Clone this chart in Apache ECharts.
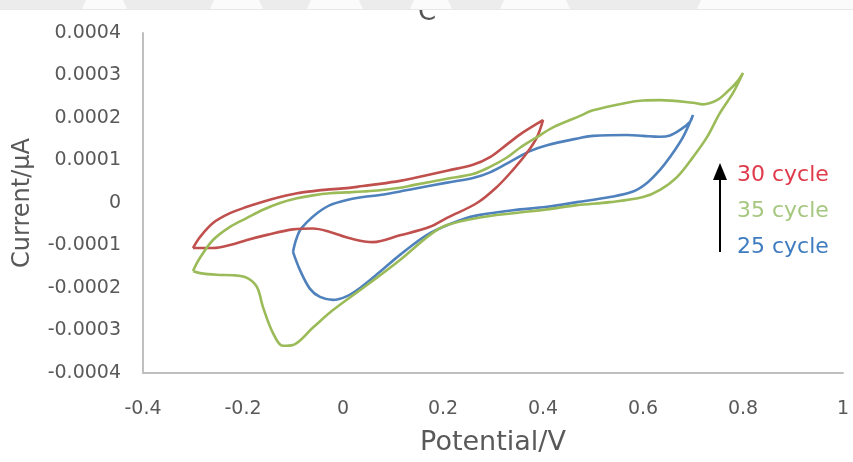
<!DOCTYPE html>
<html>
<head>
<meta charset="utf-8">
<script src="https://cdn.jsdelivr.net/npm/echarts@6/dist/echarts.min.js"></script>
<style>
  html, body { margin: 0; padding: 0; background: #ffffff; }
  #chart { width: 853px; height: 462px; }
</style>
</head>
<body>
<div id="chart"></div>
<script>
// Cyclic voltammograms: potential (V) vs current, one closed loop per cycle count.

// 25 cycle (scan -0.1 V ... 0.7 V ... -0.1 V)
const cycle25Potential = [
  -0.10, -0.094, -0.086, -0.072, -0.052, -0.026, 0.008, 0.04, 0.074, 0.114, 0.14, 0.208, 0.26,
  0.294, 0.34, 0.374, 0.408, 0.474, 0.50, 0.568, 0.60, 0.634, 0.654, 0.674, 0.694, 0.70,
  0.68, 0.654, 0.634, 0.608, 0.58, 0.534, 0.468, 0.408, 0.34, 0.274, 0.24, 0.174, 0.114,
  0.074, 0.034, 0.008, -0.02, -0.046, -0.066, -0.086, -0.10
];
const cycle25Current = [
  -1.15e-4, -0.87e-4, -0.64e-4, -0.45e-4, -0.24e-4, -0.05e-4, 0.07e-4, 0.14e-4, 0.19e-4, 0.27e-4, 0.33e-4, 0.48e-4, 0.59e-4,
  0.72e-4, 1.01e-4, 1.22e-4, 1.36e-4, 1.53e-4, 1.58e-4, 1.60e-4, 1.58e-4, 1.56e-4, 1.59e-4, 1.72e-4, 1.91e-4, 2.07e-4,
  1.55e-4, 1.08e-4, 0.78e-4, 0.47e-4, 0.27e-4, 0.14e-4, 0.02e-4, -0.09e-4, -0.17e-4, -0.28e-4, -0.38e-4, -0.71e-4, -1.22e-4,
  -1.62e-4, -2.00e-4, -2.19e-4, -2.28e-4, -2.21e-4, -2.02e-4, -1.58e-4, -1.15e-4
];

// 30 cycle (scan -0.3 V ... 0.4 V ... -0.3 V)
const cycle30Potential = [
  -0.30, -0.286, -0.26, -0.226, -0.192, -0.16, -0.126, -0.092, -0.06, -0.026, 0.008, 0.04, 0.074,
  0.114, 0.14, 0.208, 0.26, 0.294, 0.328, 0.36, 0.40,
  0.388, 0.368, 0.34, 0.308, 0.268, 0.208, 0.174, 0.114, 0.06, 0.014, -0.026, -0.06, -0.10,
  -0.152, -0.192, -0.226, -0.26, -0.30
];
const cycle30Current = [
  -1.06e-4, -0.80e-4, -0.47e-4, -0.24e-4, -0.09e-4, 0.03e-4, 0.14e-4, 0.23e-4, 0.28e-4, 0.32e-4, 0.35e-4, 0.40e-4, 0.45e-4,
  0.52e-4, 0.58e-4, 0.76e-4, 0.90e-4, 1.08e-4, 1.38e-4, 1.66e-4, 1.95e-4,
  1.55e-4, 1.18e-4, 0.78e-4, 0.38e-4, 0, -0.35e-4, -0.56e-4, -0.76e-4, -0.92e-4, -0.83e-4, -0.68e-4, -0.60e-4, -0.62e-4,
  -0.75e-4, -0.87e-4, -0.99e-4, -1.06e-4, -1.06e-4
];

// 35 cycle (scan -0.3 V ... 0.8 V ... -0.3 V)
const cycle35Potential = [
  -0.30, -0.286, -0.26, -0.226, -0.192, -0.16, -0.126, -0.092, -0.06, -0.026, 0.008, 0.04, 0.074,
  0.114, 0.14, 0.208, 0.26, 0.294, 0.328, 0.354, 0.388, 0.42, 0.474, 0.50, 0.568, 0.60, 0.634,
  0.70, 0.72, 0.748, 0.768, 0.788, 0.80,
  0.78, 0.754, 0.728, 0.70, 0.668, 0.634, 0.60, 0.534, 0.468, 0.408, 0.34, 0.274, 0.208, 0.174,
  0.114, 0.048, -0.02, -0.06, -0.10, -0.12, -0.14, -0.16, -0.172, -0.192, -0.22, -0.252, -0.286, -0.30
];
const cycle35Current = [
  -1.60e-4, -1.29e-4, -0.87e-4, -0.56e-4, -0.35e-4, -0.16e-4, 0, 0.11e-4, 0.18e-4, 0.23e-4, 0.25e-4, 0.27e-4, 0.30e-4,
  0.36e-4, 0.42e-4, 0.57e-4, 0.68e-4, 0.85e-4, 1.07e-4, 1.30e-4, 1.55e-4, 1.78e-4, 2.05e-4, 2.18e-4, 2.36e-4, 2.41e-4, 2.42e-4,
  2.36e-4, 2.32e-4, 2.42e-4, 2.61e-4, 2.85e-4, 3.06e-4,
  2.59e-4, 2.12e-4, 1.55e-4, 1.08e-4, 0.61e-4, 0.31e-4, 0.14e-4, 0.02e-4, -0.05e-4, -0.15e-4, -0.24e-4, -0.34e-4, -0.52e-4, -0.75e-4,
  -1.34e-4, -1.93e-4, -2.52e-4, -2.93e-4, -3.34e-4, -3.36e-4, -3.06e-4, -2.45e-4, -1.98e-4, -1.76e-4, -1.70e-4, -1.69e-4, -1.65e-4, -1.60e-4
];

const legendNames = ['30 cycle', '35 cycle', '25 cycle'];
const xTicks = { min: -0.4, max: 1, step: 0.2 };
const yTicks = { min: -0.0004, max: 0.0004, step: 0.0001 };

const FONT = 'DejaVu Sans';
const AXIS_TEXT = '#595959';

function pairs(xs, ys) {
  return xs.map((x, i) => [x, ys[i]]);
}

function loopSeries(name, xs, ys, color) {
  return {
    name: name,
    type: 'line',
    data: pairs(xs, ys),
    showSymbol: false,
    smooth: 0.35,
    lineStyle: { color: color, width: 2.6 },
    itemStyle: { color: color },
    emphasis: { disabled: true },
    animation: false
  };
}

// faint page band across the very top
const bandShapes = [[0, 82], [127, 210], [263, 307], [363, 410], [452, 500], [570, 697]];
const bandGraphics = bandShapes.map(([a, b]) => ({
  type: 'polygon',
  z: 100,
  shape: { points: [[a - 4, 0], [b + 4, 0], [b, 9], [a, 9]] },
  style: { fill: '#ececec' }
}));

const chart = echarts.init(document.getElementById('chart'), null, { renderer: 'canvas' });

chart.setOption({
  backgroundColor: '#ffffff',
  animation: false,
  title: {
    text: 'C',
    left: 418,
    top: 0,
    padding: 0,
    textStyle: { fontFamily: FONT, fontSize: 26, fontWeight: 'normal', color: '#555555' }
  },
  grid: { left: 143, right: 10, top: 33, bottom: 89, containLabel: false },
  legend: {
    orient: 'vertical',
    left: 727,
    top: 158,
    icon: 'none',
    itemWidth: 0,
    itemHeight: 24,
    itemGap: 12,
    selectedMode: false,
    data: [
      { name: legendNames[0], textStyle: { color: '#e0394a' } },
      { name: legendNames[1], textStyle: { color: '#a6c77f' } },
      { name: legendNames[2], textStyle: { color: '#3e7cbf' } }
    ],
    textStyle: { fontFamily: FONT, fontSize: 22, lineHeight: 24 }
  },
  xAxis: {
    type: 'value',
    min: xTicks.min,
    max: xTicks.max,
    interval: xTicks.step,
    name: 'Potential/V',
    nameLocation: 'middle',
    nameGap: 56,
    nameTextStyle: { fontFamily: FONT, fontSize: 27, color: AXIS_TEXT },
    axisLine: { show: true, onZero: false, lineStyle: { color: '#bfbfbf', width: 2 } },
    axisTick: { show: false },
    splitLine: { show: false },
    axisLabel: { fontFamily: FONT, fontSize: 19, color: AXIS_TEXT, margin: 27 }
  },
  yAxis: {
    type: 'value',
    min: yTicks.min,
    max: yTicks.max,
    interval: yTicks.step,
    name: 'Current/µA',
    nameLocation: 'middle',
    nameRotate: 90,
    nameGap: 108,
    nameTextStyle: { fontFamily: FONT, fontSize: 24, color: AXIS_TEXT },
    axisLine: { show: true, onZero: false, lineStyle: { color: '#bfbfbf', width: 2 } },
    axisTick: { show: false },
    splitLine: { show: false },
    axisLabel: {
      fontFamily: FONT, fontSize: 19, color: AXIS_TEXT, margin: 22,
      formatter: v => (Math.abs(v) < 1e-12 ? '0' : v.toFixed(4))
    }
  },
  graphic: [
    { type: 'rect', z: 99, shape: { x: 0, y: 0, width: 853, height: 10 }, style: { fill: '#fbfbfb' } },
    { type: 'rect', z: 99, shape: { x: 0, y: 9, width: 853, height: 1 }, style: { fill: '#e8e8e8' } },
    ...bandGraphics,
    // arrow next to the cycle labels
    { type: 'line', z: 50, shape: { x1: 720, y1: 252, x2: 720, y2: 176 }, style: { stroke: '#000000', lineWidth: 2 } },
    { type: 'polygon', z: 50, shape: { points: [[713, 180], [727, 180], [720, 163]] }, style: { fill: '#000000' } }
  ],
  series: [
    loopSeries('25 cycle', cycle25Potential, cycle25Current, '#4f81bd'),
    loopSeries('30 cycle', cycle30Potential, cycle30Current, '#c0504d'),
    loopSeries('35 cycle', cycle35Potential, cycle35Current, '#9bbb59')
  ]
});
</script>
</body>
</html>
